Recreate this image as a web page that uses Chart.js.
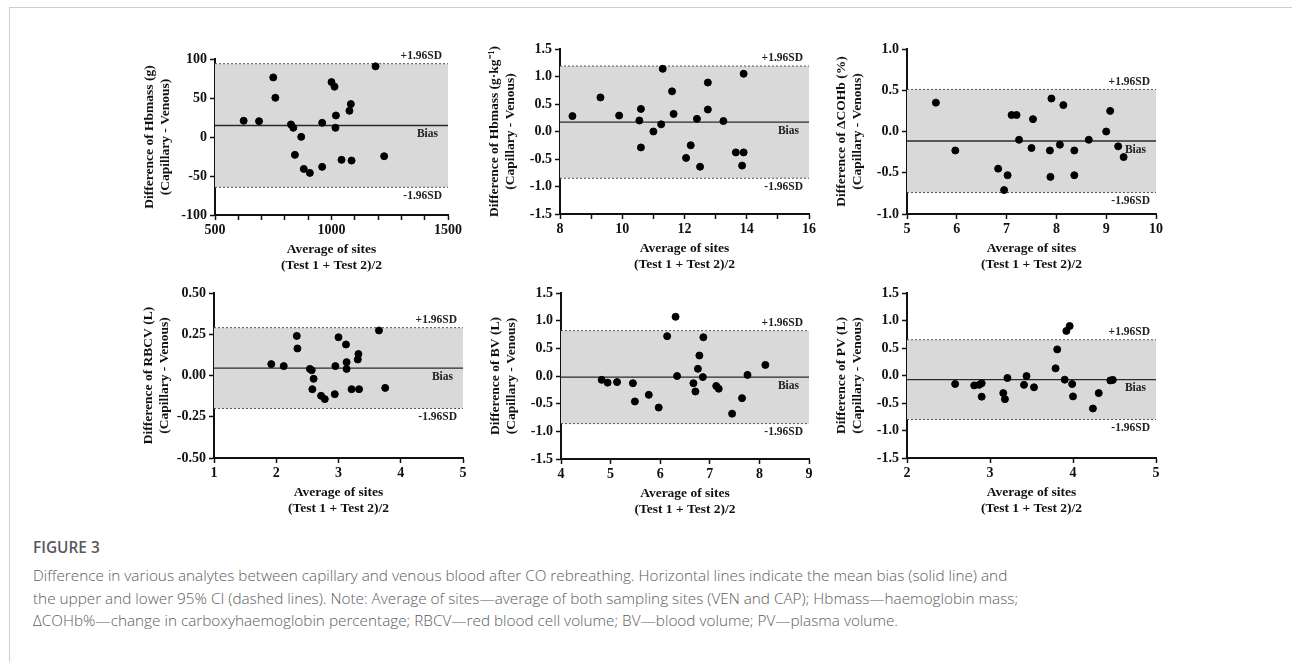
<!DOCTYPE html>
<html>
<head>
<meta charset="utf-8">
<script src="https://cdn.jsdelivr.net/npm/chart.js@4.4.0/dist/chart.umd.min.js"></script>
<style>
    body { margin: 0; width: 1292px; height: 662px; overflow: hidden; position: relative; background: #fff; }
    .frame { position: absolute; left: 9px; top: 7px; right: 0; bottom: 0; border-left: 1px solid #cfcfcf; border-top: 1px solid #cfcfcf; }
    .panel { position: absolute; }
    .fig-label { position: absolute; left: 33px; top: 537px; font: 600 15.4px/21px "Open Sans", sans-serif; color: #58595b; }
    .fig-caption { position: absolute; left: 33px; top: 564px; font: 300 15.3px/22.5px "Open Sans", sans-serif; color: #5c5d60; white-space: nowrap; }
</style>
</head>
<body>
<div class="frame"></div>
<div class="fig-label">FIGURE 3</div>
<div class="fig-caption">Difference in various analytes between capillary and venous blood after CO rebreathing. Horizontal lines indicate the mean bias (solid line) and<br>the upper and lower 95% CI (dashed lines). Note: Average of sites—average of both sampling sites (VEN and CAP); Hbmass—haemoglobin mass;<br>ΔCOHb%—change in carboxyhaemoglobin percentage; RBCV—red blood cell volume; BV—blood volume; PV—plasma volume.</div>

<script>
    "use strict";

    // Hbmass (g)
    var hbmassX = [623, 689, 750, 759, 826, 836, 870, 843, 881, 907, 960, 960, 1000, 1013, 1019, 1017, 1043, 1077, 1083, 1086, 1189, 1226];
    var hbmassY = [20.8, 20.3, 76.4, 50.3, 16.1, 11.8, 0.2, -22.9, -40.9, -46, 18.2, -38.3, 70.4, 64.5, 27.6, 11.8, -29.3, 33.6, 42.2, -30.2, 90.6, -24.6];
    // Hbmass (g/kg)
    var relHbX = [8.4, 9.3, 9.9, 10.55, 10.6, 10.6, 11.0, 11.25, 11.3, 11.6, 11.65, 12.05, 12.2, 12.4, 12.5, 12.75, 12.75, 13.25, 13.65, 13.85, 13.9, 13.9];
    var relHbY = [0.28, 0.62, 0.29, 0.20, 0.41, -0.29, 0.0, 0.13, 1.14, 0.73, 0.32, -0.48, -0.25, 0.23, -0.64, 0.89, 0.40, 0.19, -0.38, -0.62, -0.38, 1.05];
    // dCOHb (%)
    var cohbX = [5.58, 5.97, 6.83, 7.02, 6.95, 7.1, 7.2, 7.25, 7.5, 7.53, 7.87, 7.9, 7.88, 8.07, 8.14, 8.36, 8.36, 8.65, 9.0, 9.08, 9.24, 9.35];
    var cohbY = [0.35, -0.23, -0.45, -0.53, -0.71, 0.20, 0.20, -0.10, -0.20, 0.15, -0.23, 0.40, -0.55, -0.16, 0.32, -0.23, -0.53, -0.10, 0.0, 0.25, -0.18, -0.31];
    // RBCV (L)
    var rbcvX = [1.92, 2.12, 2.33, 2.34, 2.54, 2.57, 2.6, 2.58, 2.72, 2.78, 2.94, 2.95, 3.0, 3.12, 3.13, 3.13, 3.21, 3.31, 3.32, 3.33, 3.65, 3.75];
    var rbcvY = [0.069, 0.057, 0.24, 0.164, 0.04, 0.032, -0.02, -0.083, -0.123, -0.143, -0.113, 0.057, 0.232, 0.188, 0.081, 0.04, -0.083, 0.097, 0.13, -0.083, 0.273, -0.075];
    // BV (L)
    var bvX = [4.82, 4.94, 5.13, 5.45, 5.49, 5.77, 5.97, 6.14, 6.31, 6.34, 6.67, 6.71, 6.76, 6.79, 6.86, 6.87, 7.13, 7.18, 7.45, 7.65, 7.76, 8.12];
    var bvY = [-0.07, -0.12, -0.11, -0.13, -0.46, -0.34, -0.57, 0.72, 1.07, 0.0, -0.13, -0.28, 0.13, 0.37, -0.02, 0.70, -0.18, -0.23, -0.68, -0.40, 0.02, 0.20];
    // PV (L)
    var pvX = [2.58, 2.81, 2.87, 2.9, 2.9, 3.16, 3.18, 3.21, 3.41, 3.44, 3.53, 3.79, 3.81, 3.9, 3.92, 3.96, 3.99, 4.0, 4.24, 4.31, 4.45, 4.48];
    var pvY = [-0.155, -0.18, -0.17, -0.14, -0.385, -0.32, -0.43, -0.045, -0.17, -0.01, -0.215, 0.13, 0.475, -0.076, 0.81, 0.90, -0.155, -0.38, -0.60, -0.32, -0.09, -0.08];

    // bias and limits of agreement, one per panel
    var biasValues = [14.8, 0.17, -0.115, 0.045, -0.02, -0.075];
    var upperLimits = [94, 1.19, 0.51, 0.29, 0.82, 0.65];
    var lowerLimits = [-64.5, -0.85, -0.74, -0.20, -0.86, -0.80];

    // axes
    var xMins = [500, 8, 5, 1, 4, 2];
    var xMaxs = [1500, 16, 10, 5, 9, 5];
    var xSteps = [100, 1, 1, 1, 1, 1];
    var xLabelEvery = [500, 2, 1, 1, 1, 1];
    var yMins = [-100, -1.5, -1, -0.5, -1.5, -1.5];
    var yMaxs = [100, 1.5, 1, 0.5, 1.5, 1.5];
    var ySteps = [50, 0.5, 0.5, 0.25, 0.5, 0.5];
    var yDecimals = [0, 1, 1, 2, 1, 1];
    var yTitles = [
        'Difference of Hbmass (g)',
        'Difference of Hbmass (g\u00B7kg\u207B\u00B9)',
        'Difference of \u0394COHb (%)',
        'Difference of RBCV (L)',
        'Difference of BV (L)',
        'Difference of PV (L)'
    ];
    var yTitleSub = '(Capillary - Venous)';
    var xTitleLines = ['Average of sites', '(Test 1 + Test 2)/2'];
    var limitLabels = ['+1.96SD', 'Bias', '-1.96SD'];

    var seriesX = [hbmassX, relHbX, cohbX, rbcvX, bvX, pvX];
    var seriesY = [hbmassY, relHbY, cohbY, rbcvY, bvY, pvY];

    // plot area of every panel on the page (left, top, right, bottom)
    var plotBoxes = [
        [215, 59, 448, 215],
        [560, 49, 809, 214],
        [907, 49, 1156, 214],
        [214, 293, 463, 458],
        [561, 293, 809, 459],
        [907, 293, 1156, 458]
    ];

    var SERIF = '"Liberation Serif", "Times New Roman", serif';
    var PAD_LEFT = 100, PAD_TOP = 14, PAD_RIGHT = 30, X_AXIS_H = 62;

    var limitLabelPlugin = {
        id: 'limitLabels',
        afterDatasetsDraw: function (chart, args, opts) {
            var ctx = chart.ctx;
            var yScale = chart.scales.y;
            var right = chart.chartArea.right;
            ctx.save();
            ctx.font = 'bold 11.5px ' + SERIF;
            ctx.fillStyle = '#222';
            ctx.textAlign = 'right';
            ctx.textBaseline = 'bottom';
            ctx.fillText(limitLabels[0], right - 6, yScale.getPixelForValue(opts.upper) - 2);
            ctx.textBaseline = 'top';
            ctx.fillText(limitLabels[1], right - 10, yScale.getPixelForValue(opts.bias) + 3);
            ctx.fillText(limitLabels[2], right - 6, yScale.getPixelForValue(opts.lower) + 3);
            ctx.restore();
        }
    };

    function makePanel(i) {
        var box = plotBoxes[i];
        var width = box[2] - box[0] + PAD_LEFT + PAD_RIGHT;
        var height = box[3] - box[1] + PAD_TOP + X_AXIS_H;

        var wrap = document.createElement('div');
        wrap.className = 'panel';
        wrap.style.left = (box[0] - PAD_LEFT) + 'px';
        wrap.style.top = (box[1] - PAD_TOP) + 'px';
        wrap.style.width = width + 'px';
        wrap.style.height = height + 'px';
        var canvas = document.createElement('canvas');
        canvas.width = width;
        canvas.height = height;
        canvas.style.width = width + 'px';
        canvas.style.height = height + 'px';
        wrap.appendChild(canvas);
        document.body.appendChild(wrap);

        var points = seriesX[i].map(function (x, k) {
            return {x: x, y: seriesY[i][k]};
        });
        var xMin = xMins[i], xMax = xMaxs[i];
        var hLine = function (v) {
            return [{x: xMin, y: v}, {x: xMax, y: v}];
        };

        new Chart(canvas, {
            type: 'scatter',
            data: {
                datasets: [{
                    // upper limit, band filled down to the lower limit
                    type: 'line',
                    data: hLine(upperLimits[i]),
                    borderColor: '#555',
                    borderWidth: 1,
                    borderDash: [2, 2],
                    pointRadius: 0,
                    backgroundColor: '#d9d9d9',
                    fill: {value: lowerLimits[i]},
                    order: 3
                }, {
                    type: 'line',
                    data: hLine(lowerLimits[i]),
                    borderColor: '#555',
                    borderWidth: 1,
                    borderDash: [2, 2],
                    pointRadius: 0,
                    fill: false,
                    order: 2
                }, {
                    type: 'line',
                    data: hLine(biasValues[i]),
                    borderColor: '#2a2a2a',
                    borderWidth: 1.4,
                    pointRadius: 0,
                    fill: false,
                    order: 2
                }, {
                    data: points,
                    backgroundColor: '#000',
                    borderColor: '#000',
                    pointRadius: 3.5,
                    order: 1
                }]
            },
            options: {
                responsive: false,
                animation: false,
                events: [],
                layout: {padding: {left: 0, top: PAD_TOP, right: PAD_RIGHT, bottom: 0}},
                plugins: {
                    legend: {display: false},
                    tooltip: {enabled: false},
                    limitLabels: {bias: biasValues[i], upper: upperLimits[i], lower: lowerLimits[i]}
                },
                scales: {
                    x: {
                        type: 'linear',
                        min: xMin,
                        max: xMax,
                        afterFit: function (scale) { scale.height = X_AXIS_H; },
                        ticks: {
                            stepSize: xSteps[i],
                            autoSkip: false,
                            maxRotation: 0,
                            padding: 2,
                            color: '#111',
                            font: {family: SERIF, size: 14, weight: 'bold'},
                            callback: function (v) {
                                return Math.abs(v % xLabelEvery[i]) < 1e-9 ? String(v) : '';
                            }
                        },
                        grid: {drawOnChartArea: false, drawTicks: true, tickLength: 5, tickColor: '#111', tickWidth: 1.5},
                        border: {display: true, color: '#111', width: 2},
                        title: {
                            display: true,
                            text: xTitleLines,
                            color: '#111',
                            font: {family: SERIF, size: 13.5, weight: 'bold', lineHeight: 1.15},
                            padding: {top: 0, bottom: 4}
                        }
                    },
                    y: {
                        type: 'linear',
                        min: yMins[i],
                        max: yMaxs[i],
                        afterFit: function (scale) { scale.width = PAD_LEFT; },
                        ticks: {
                            stepSize: ySteps[i],
                            padding: 3,
                            color: '#111',
                            font: {family: SERIF, size: 14, weight: 'bold'},
                            callback: function (v) { return Number(v).toFixed(yDecimals[i]); }
                        },
                        grid: {drawOnChartArea: false, drawTicks: true, tickLength: 5, tickColor: '#111', tickWidth: 1.5},
                        border: {display: true, color: '#111', width: 2},
                        title: {
                            display: true,
                            text: [yTitles[i], yTitleSub],
                            color: '#111',
                            font: {family: SERIF, size: 13.5, weight: 'bold', lineHeight: 1.2},
                            padding: {top: 26, bottom: 0}
                        }
                    }
                }
            },
            plugins: [limitLabelPlugin]
        });
    }

    for (var i = 0; i < plotBoxes.length; i++) {
        makePanel(i);
    }
</script>
</body>
</html>
